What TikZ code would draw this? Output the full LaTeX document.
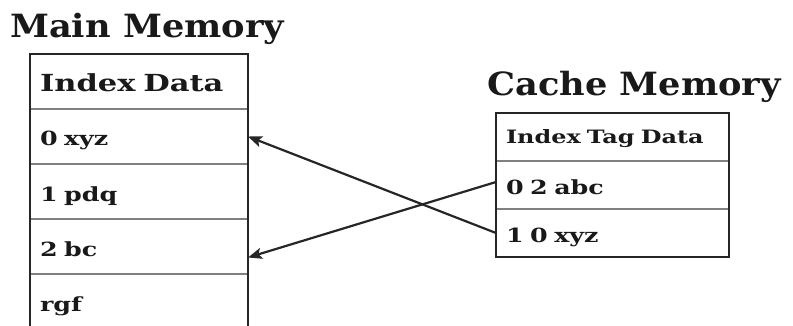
\documentclass[tikz,border=0pt]{standalone}
\usepackage{fontspec}
\setmainfont{DejaVu Serif}
\newfontfamily\wideserif[FakeStretch=1.3,WordSpace=1.5]{DejaVu Serif}
\newfontfamily\titleserif[FakeStretch=1.1]{DejaVu Serif}
\usetikzlibrary{arrows.meta,positioning}
\tikzset{
	cell/.style={draw=black!50, line width=1.4pt, outer sep=0pt, inner xsep=10pt, inner ysep=0pt, text height=19pt, text depth=0pt, align=left, text=black!90, font=\wideserif\bfseries\fontsize{19.5}{19.5}\selectfont},
	mcell/.style={cell, minimum width=218pt, minimum height=55pt, text width=198pt},
	ccell/.style={cell, minimum width=233pt, minimum height=48pt, text width=213pt},
	title/.style={anchor=base west, inner sep=0pt, text=black!90, font=\titleserif\bfseries\fontsize{32}{32}\selectfont},
	frame/.style={draw=black!85, line width=2.4pt},
	arr/.style={line width=2.2pt, draw=black!85, -{Stealth[length=14pt, width=11pt, inset=3pt]}}
}
\begin{document}
\begin{tikzpicture}[x=1pt, y=-1pt]
		\useasboundingbox (0,0) rectangle (793,326);
		% main memory
		\node[title] (mtitle) at (10,38) {Main Memory};
		\node[mcell, anchor=north west, text height=21pt, font=\wideserif\bfseries\fontsize{23.5}{23.5}\selectfont] (mhead) at (30,54) {Index Data};
		\node[mcell, below=0pt of mhead] (m0) {0 xyz};
		\node[mcell, below=0pt of m0] (m1) {1 pdq};
		\node[mcell, below=0pt of m1] (m2) {2 bc};
		\node[mcell, below=0pt of m2] (m3) {rgf};
		\draw[frame] (mhead.north west) rectangle (m3.south east);
		% cache memory
		\node[title] (ctitle) at (487,96) {Cache Memory};
		\node[ccell, anchor=north west, text height=14pt, font=\wideserif\bfseries\fontsize{18.4}{18.4}\selectfont] (chead) at (496,113) {Index Tag Data};
		\node[ccell, below=0pt of chead] (c0) {0 2 abc};
		\node[ccell, below=0pt of c0] (c1) {1 0 xyz};
		\draw[frame] (chead.north west) rectangle (c1.south east);
		\draw[arr] (c1.west) -- (m0.east);
		\draw[arr] ([yshift=3pt]c0.west) -- ([yshift=-11pt]m2.east);
	\end{tikzpicture}
\end{document}
